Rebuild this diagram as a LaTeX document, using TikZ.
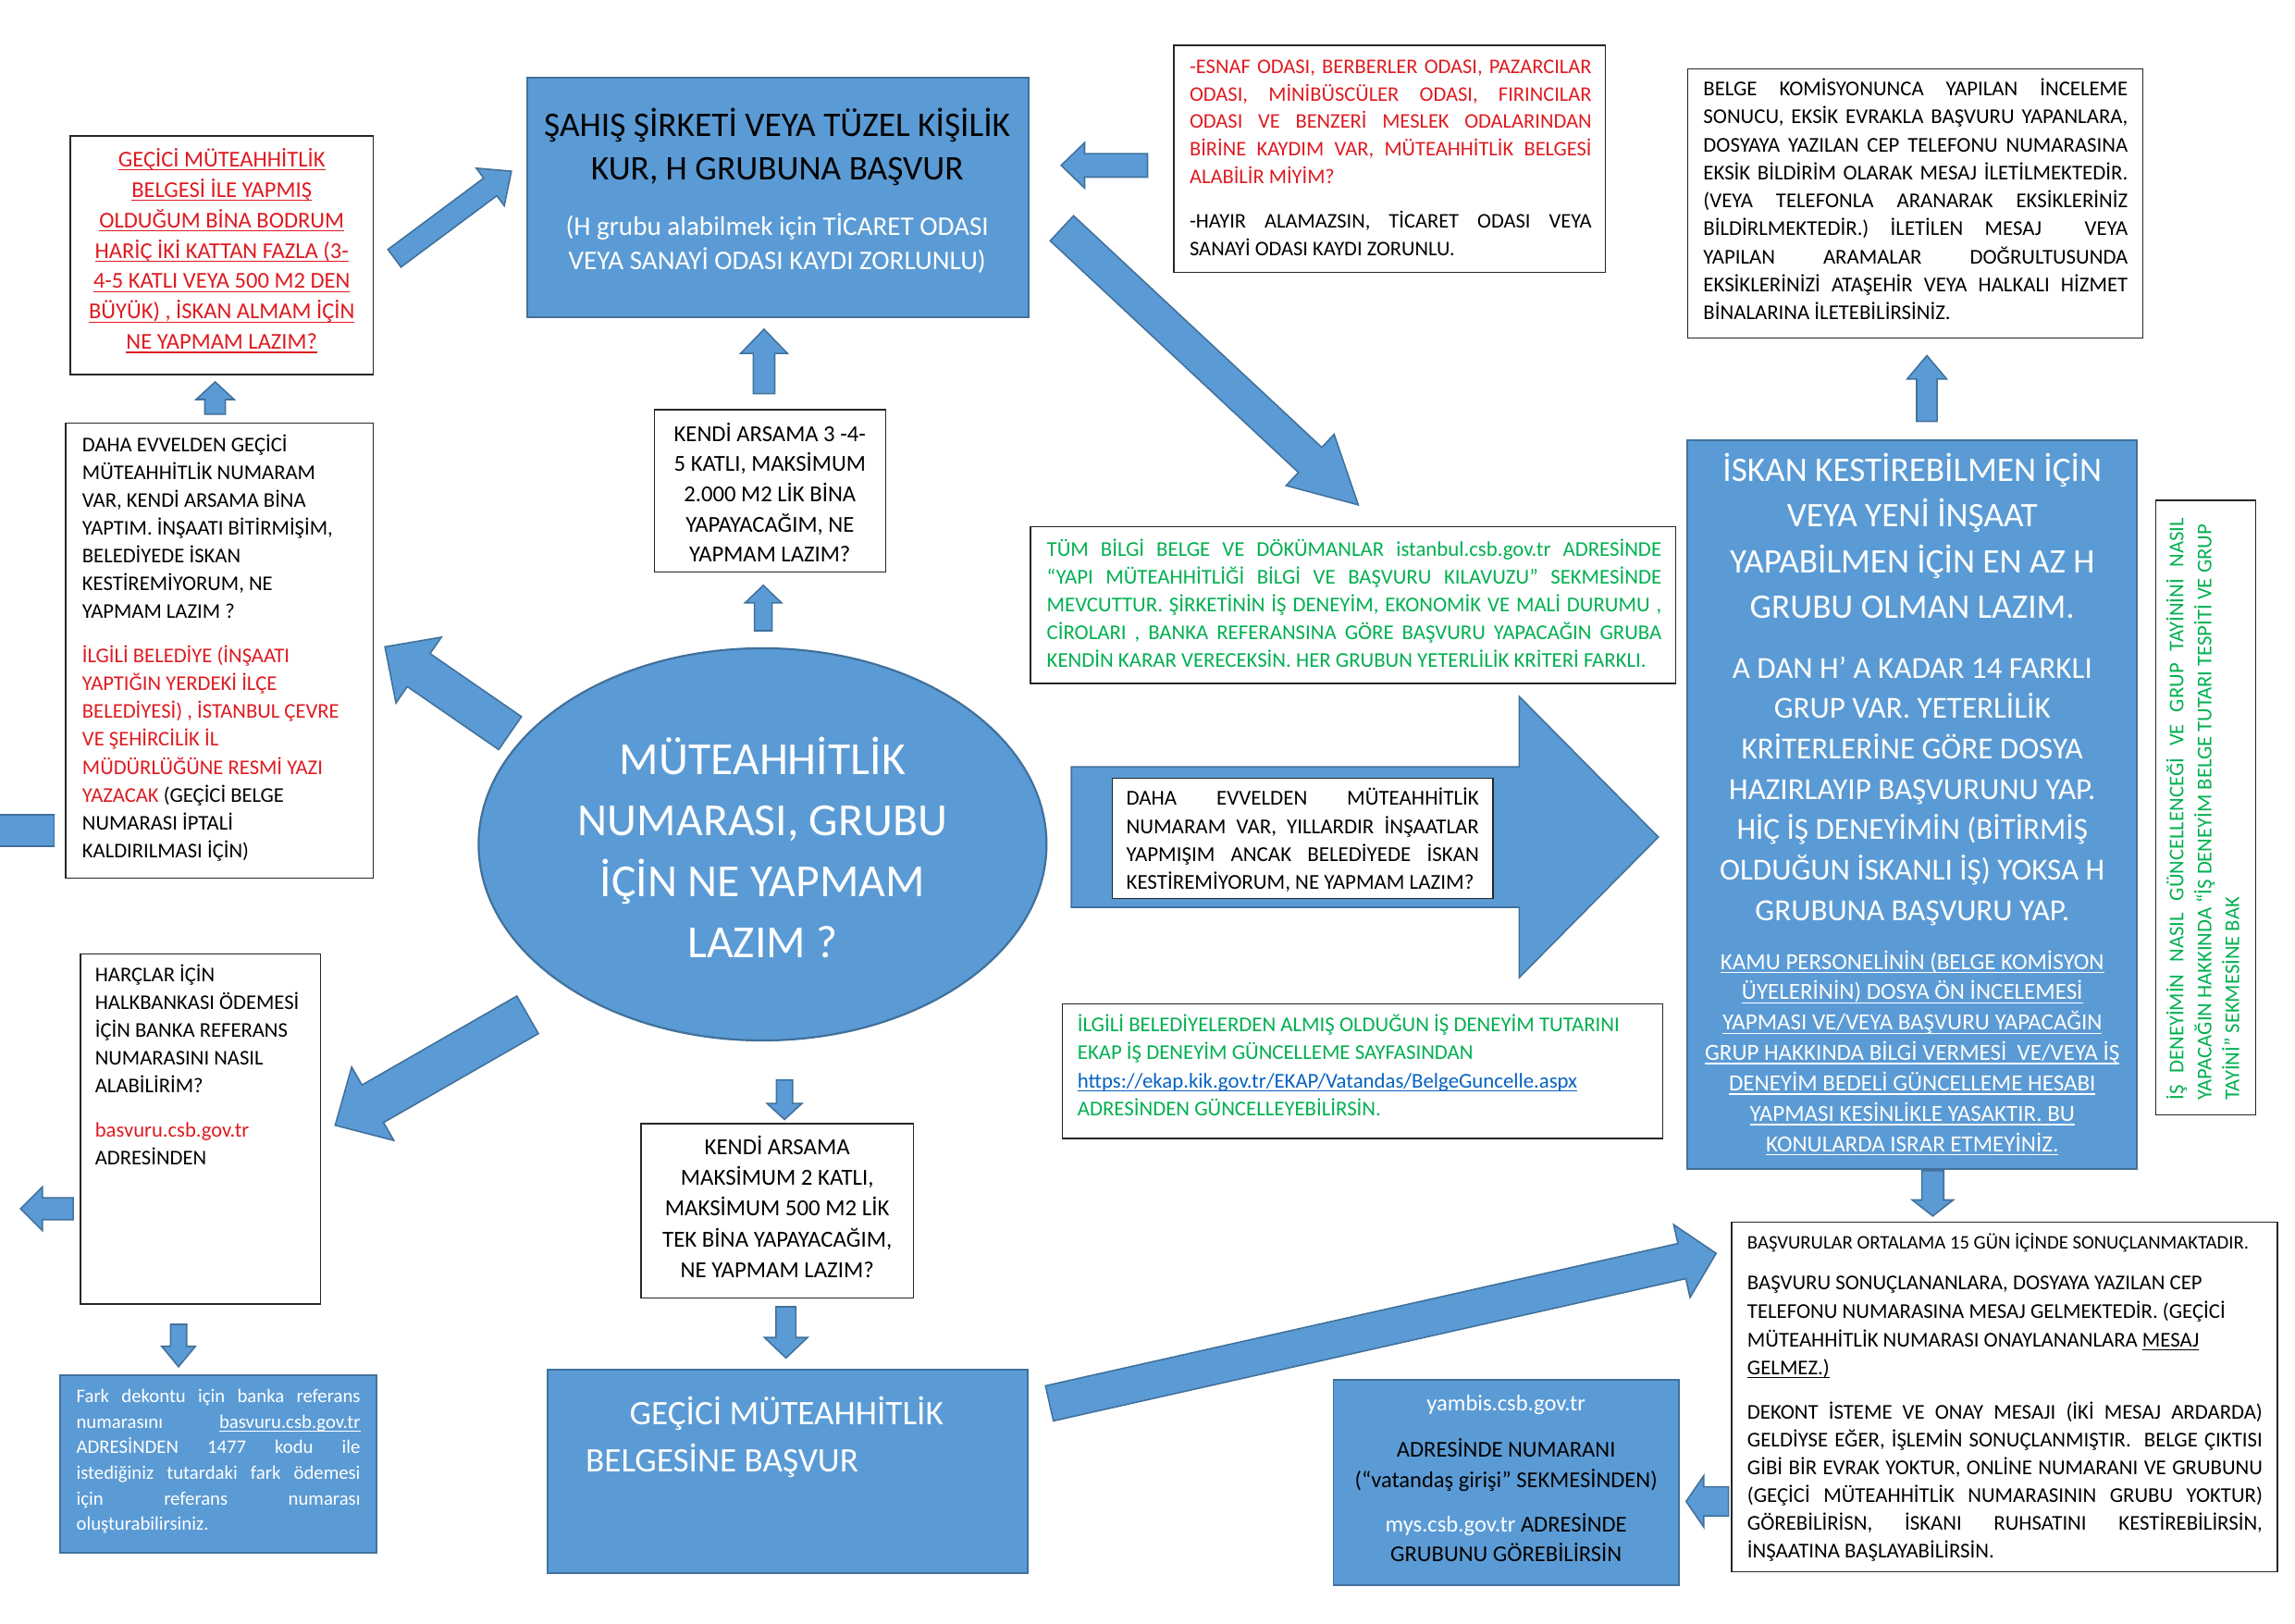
\documentclass[tikz,border=0pt]{standalone}
\usepackage{fontspec}
\setmainfont{Carlito}
\usetikzlibrary{calc,shapes.geometric}
\definecolor{bfill}{HTML}{5B9BD5}
\definecolor{bline}{HTML}{41719C}
\definecolor{tred}{RGB}{222,27,33}
\definecolor{tgreen}{HTML}{00B050}
\definecolor{tlink}{HTML}{0563C1}
\newlength\jw
\newcommand\fs[2]{\fontsize{#1pt}{#2pt}\selectfont}
\newcommand\jl[1]{\makebox[\jw][s]{#1}}
\newcommand\myul[1]{\leavevmode\setbox0\hbox{#1}\rlap{\rule[-0.17em]{\wd0}{0.06em}}\box0}
\newcommand\boxat[6]{\node[#1,minimum width={(#4-#2)*1pt},minimum height={(#5-#3)*1pt}] (#6) at ({(#2+#4)/2},{(#3+#5)/2}) {};}
\newcommand\barrow[6]{%
  \coordinate (#1-t) at (#2);
  \coordinate (#1-h) at (#3);
  \coordinate (#1-n) at ($(#1-h)!#6pt!(#1-t)$);
  \draw[barr] ($(#1-t)!#4pt!90:(#1-h)$) -- ($(#1-n)!#4pt!90:(#1-h)$) -- ($(#1-n)!#5pt!90:(#1-h)$) -- (#1-h)
    -- ($(#1-n)!#5pt!-90:(#1-h)$) -- ($(#1-n)!#4pt!-90:(#1-h)$) -- ($(#1-t)!#4pt!-90:(#1-h)$) -- cycle;}
\begin{document}
\begin{tikzpicture}[x=1pt,y=-1pt,
  wbox/.style={draw=black!85,line width=0.9pt,fill=white,inner sep=0pt},
  bbox/.style={draw=bline,line width=1.2pt,fill=bfill,inner sep=0pt},
  txt/.style={inner sep=0pt,align=left,anchor=north west},
  ctxt/.style={inner sep=0pt,align=center,anchor=north},
  barr/.style={fill=bfill,draw=bline,line width=1pt,line join=miter}]
\useasboundingbox (0,0) rectangle (1568,1109.2);
\fill[white] (0,0) rectangle (1568,1109.2);

% ---------- arrows behind ----------
\barrow{a5}{348.5,501}{263,442}{13.7}{27.3}{28}
\barrow{a12}{360.5,693.5}{229,769}{14.8}{28.9}{29.6}
\barrow{a1}{147,283}{147,261}{7}{13}{12}
\barrow{a2}{269.5,176.5}{349.4,117}{7.5}{16}{18}
\barrow{a3}{522,269}{522,225}{7.3}{16}{16.5}
\barrow{a4}{521.5,431}{521.5,400}{6}{12.5}{12}
\barrow{a6}{725.5,156}{928,345}{11.7}{24}{45}
\barrow{a7}{784,113}{725,113}{8}{15.5}{16}
\barrow{a8}{1316.5,288}{1316.5,243}{7}{13.5}{16}
\barrow{a9}{1320.5,800}{1320.5,831}{7.5}{14}{11}
\barrow{a10}{1181,1026}{1152,1026}{10}{17.5}{12}
\barrow{a11}{717,959}{1172.5,856.5}{12.3}{25.5}{24}
\barrow{a13}{50,826}{14,826}{7.5}{15}{15}
\barrow{a14}{122,905}{122,934}{5.5}{11.5}{14}
\barrow{a15}{536,738}{536,765}{5.5}{12}{11}
\barrow{a16}{537,893}{537,928}{6.8}{14.7}{14}
\barrow{ax}{732,572}{1133,572}{48}{96}{95}
\boxat{bbox}{-2}{557}{37}{578}{D}

% ---------- central ellipse ----------
\node[ellipse,draw=bline,line width=1.4pt,fill=bfill,minimum width=388pt,minimum height=268pt,inner sep=0pt] (M) at (521,577) {};
\node[ctxt,text=white,font=\fs{31.4}{41.7}] (Mt) at (521,499.8) {\strut MÜTEAHHİTLİK\\ NUMARASI, GRUBU\\ İÇİN NE YAPMAM\\ LAZIM ?};

% ---------- red question box ----------
\boxat{wbox}{48}{93}{255}{256}{A}
\node[ctxt,text=tred,font=\fs{15.5}{20.8}] (At) at (151.5,99.2) {\strut\myul{GEÇİCİ MÜTEAHHİTLİK}\\ \myul{BELGESİ İLE YAPMIŞ}\\ \myul{OLDUĞUM BİNA BODRUM}\\ \myul{HARİÇ İKİ KATTAN FAZLA (3-}\\ \myul{4-5 KATLI VEYA 500 M2 DEN}\\ \myul{BÜYÜK) , İSKAN ALMAM İÇİN}\\ \myul{NE YAPMAM LAZIM?}};

% ---------- DAHA EVVELDEN box ----------
\boxat{wbox}{45}{289}{255}{600}{C}
\node[txt,font=\fs{14.3}{19}] (Ct) at (56,295.1) {\strut DAHA EVVELDEN GEÇİCİ\\ MÜTEAHHİTLİK NUMARAM\\ VAR, KENDİ ARSAMA BİNA\\ YAPTIM. İNŞAATI BİTİRMİŞİM,\\ BELEDİYEDE İSKAN\\ KESTİREMİYORUM, NE\\ YAPMAM LAZIM ?\\[11.4pt] \textcolor{tred}{İLGİLİ BELEDİYE (İNŞAATI}\\ \textcolor{tred}{YAPTIĞIN YERDEKİ İLÇE}\\ \textcolor{tred}{BELEDİYESİ) , İSTANBUL ÇEVRE}\\ \textcolor{tred}{VE ŞEHİRCİLİK İL}\\ \textcolor{tred}{MÜDÜRLÜĞÜNE RESMİ YAZI}\\ \textcolor{tred}{YAZACAK} (GEÇİCİ BELGE\\ NUMARASI İPTALİ\\ KALDIRILMASI İÇİN)};

% ---------- ŞAHIŞ box ----------
\boxat{bbox}{360}{53}{703}{217}{G}
\node[ctxt,font=\fs{23.6}{30}] (Gt) at (531,71.8) {\strut ŞAHIŞ ŞİRKETİ VEYA TÜZEL KİŞİLİK\\ KUR, H GRUBUNA BAŞVUR};
\node[ctxt,text=white,font=\fs{18.4}{23.5}] (Gw) at (531,144.2) {\strut (H grubu alabilmek için TİCARET ODASI\\ VEYA SANAYİ ODASI KAYDI ZORLUNLU)};

% ---------- ESNAF box ----------
\boxat{wbox}{802}{31}{1097}{186}{E}
\node[txt,text=tred,font=\fs{14.2}{18.9}\setlength\jw{274.6pt}] (Er) at (812.6,36.6) {\strut\jl{-ESNAF ODASI, BERBERLER ODASI, PAZARCILAR}\\ \jl{ODASI, MİNİBÜSCÜLER ODASI, FIRINCILAR}\\ \jl{ODASI VE BENZERİ MESLEK ODALARINDAN}\\ \jl{BİRİNE KAYDIM VAR, MÜTEAHHİTLİK BELGESİ}\\ ALABİLİR MİYİM?};
\node[txt,font=\fs{14.2}{18.9}\setlength\jw{274.6pt}] (Eb) at (812.6,142.6) {\strut\jl{-HAYIR ALAMAZSIN, TİCARET ODASI VEYA}\\ SANAYİ ODASI KAYDI ZORUNLU.};

% ---------- BELGE KOMİSYONUNCA box ----------
\boxat{wbox}{1153}{47}{1464}{231}{V}
\node[txt,font=\fs{14.4}{19.1}\setlength\jw{290pt}] (Vt) at (1163.6,52) {\strut\jl{BELGE KOMİSYONUNCA YAPILAN İNCELEME}\\ \jl{SONUCU, EKSİK EVRAKLA BAŞVURU YAPANLARA,}\\ \jl{DOSYAYA YAZILAN CEP TELEFONU NUMARASINA}\\ \jl{EKSİK BİLDİRİM OLARAK MESAJ İLETİLMEKTEDİR.}\\ \jl{(VEYA TELEFONLA ARANARAK EKSİKLERİNİZ}\\ \jl{BİLDİRLMEKTEDİR.) İLETİLEN MESAJ \ VEYA}\\ \jl{YAPILAN ARAMALAR DOĞRULTUSUNDA}\\ \jl{EKSİKLERİNİZİ ATAŞEHİR VEYA HALKALI HİZMET}\\ BİNALARINA İLETEBİLİRSİNİZ.};

% ---------- KENDİ ARSAMA 3-4-5 ----------
\boxat{wbox}{447}{280}{605}{391}{I}
\node[ctxt,font=\fs{15.6}{20.6}] (It) at (526,287) {\strut KENDİ ARSAMA 3 -4-\\ 5 KATLI, MAKSİMUM\\ 2.000 M2 LİK BİNA\\ YAPAYACAĞIM, NE\\ YAPMAM LAZIM?};

% ---------- KENDİ ARSAMA 2 KATLI ----------
\boxat{wbox}{438}{768}{624}{887}{L}
\node[ctxt,font=\fs{15.7}{21}] (Lt) at (531,774.1) {\strut KENDİ ARSAMA\\ MAKSİMUM 2 KATLI,\\ MAKSİMUM 500 M2 LİK\\ TEK BİNA YAPAYACAĞIM,\\ NE YAPMAM LAZIM?};

% ---------- GEÇİCİ BELGESİNE BAŞVUR ----------
\boxat{bbox}{374}{936}{702}{1075}{N}
\node[anchor=base west,inner sep=0pt,text=white,font=\fs{23.5}{30}] (Nt1) at (430,973.5) {GEÇİCİ MÜTEAHHİTLİK};
\node[anchor=base west,inner sep=0pt,text=white,font=\fs{23.5}{30}] (Nt2) at (400,1005.8) {BELGESİNE BAŞVUR};

% ---------- yambis box ----------
\boxat{bbox}{911}{943}{1147}{1083}{P}
\node[ctxt,font=\fs{15.5}{20.3}] (Pt) at (1029,950) {\strut\textcolor{white}{yambis.csb.gov.tr}\\[11.3pt] ADRESİNDE NUMARANI\\ (“vatandaş girişi” SEKMESİNDEN)\\[10.2pt] \textcolor{white}{mys.csb.gov.tr} ADRESİNDE\\ GRUBUNU GÖREBİLİRSİN};

% ---------- BAŞVURULAR box ----------
\boxat{wbox}{1183}{835}{1556}{1074}{R}
\node[txt,font=\fs{13.1}{19.2}] (Rt1) at (1193.6,839.7) {\strut BAŞVURULAR ORTALAMA 15 GÜN İÇİNDE SONUÇLANMAKTADIR.};
\node[txt,font=\fs{14.4}{19.3}] (Rt2) at (1193.6,867.9) {\strut BAŞVURU SONUÇLANANLARA, DOSYAYA YAZILAN CEP\\ TELEFONU NUMARASINA MESAJ GELMEKTEDİR. (GEÇİCİ\\ MÜTEAHHİTLİK NUMARASI ONAYLANANLARA \myul{MESAJ}\\ \myul{GELMEZ.)}};
\node[txt,font=\fs{14.4}{18.95}\setlength\jw{352pt}] (Rt3) at (1193.6,956.1) {\strut\jl{DEKONT İSTEME VE ONAY MESAJI (İKİ MESAJ ARDARDA)}\\ \jl{GELDİYSE EĞER, İŞLEMİN SONUÇLANMIŞTIR. \ BELGE ÇIKTISI}\\ \jl{GİBİ BİR EVRAK YOKTUR, ONLİNE NUMARANI VE GRUBUNU}\\ \jl{(GEÇİCİ MÜTEAHHİTLİK NUMARASININ GRUBU YOKTUR)}\\ \jl{GÖREBİLİRİSN, İSKANI RUHSATINI KESTİREBİLİRSİN,}\\ İNŞAATINA BAŞLAYABİLİRSİN.};

% ---------- İSKAN box ----------
\boxat{bbox}{1153}{301}{1460}{799}{T}
\node[ctxt,text=white,font=\fs{23.5}{31}] (Tt1) at (1306.5,307.3) {\strut İSKAN KESTİREBİLMEN İÇİN\\ VEYA YENİ İNŞAAT\\ YAPABİLMEN İÇİN EN AZ H\\ GRUBU OLMAN LAZIM.};
\node[ctxt,text=white,font=\fs{20.9}{27.6}] (Tt2) at (1306.5,443.8) {\strut A DAN H’ A KADAR 14 FARKLI\\ GRUP VAR. YETERLİLİK\\ KRİTERLERİNE GÖRE DOSYA\\ HAZIRLAYIP BAŞVURUNU YAP.\\ HİÇ İŞ DENEYİMİN (BİTİRMİŞ\\ OLDUĞUN İSKANLI İŞ) YOKSA H\\ GRUBUNA BAŞVURU YAP.};
\node[ctxt,text=white,font=\fs{15.8}{20.75}] (Tt3) at (1306.5,647.7) {\strut\myul{KAMU PERSONELİNİN (BELGE KOMİSYON}\\ \myul{ÜYELERİNİN) DOSYA ÖN İNCELEMESİ}\\ \myul{YAPMASI VE/VEYA BAŞVURU YAPACAĞIN}\\ \myul{GRUP HAKKINDA BİLGİ VERMESİ \ VE/VEYA İŞ}\\ \myul{DENEYİM BEDELİ GÜNCELLEME HESABI}\\ \myul{YAPMASI KESİNLİKLE YASAKTIR. BU}\\ \myul{KONULARDA ISRAR ETMEYİNİZ.}};

% ---------- vertical green box ----------
\boxat{wbox}{1473}{342}{1541}{762}{W}
\node[txt,rotate=90,text=tgreen,font=\fs{14.3}{19}\setlength\jw{398pt}] (Wt) at (1478.3,752) {\strut\jl{İŞ \ DENEYİMİN \ NASIL \ GÜNCELLENCEĞİ \ VE \ GRUP \ TAYİNİNİ \ NASIL}\\ YAPACAĞIN HAKKINDA “İŞ DENEYİM BELGE TUTARI TESPİTİ VE GRUP\\ TAYİNİ” SEKMESİNE BAK};

% ---------- TÜM BİLGİ box ----------
\boxat{wbox}{704}{360}{1145}{467}{Tm}
\node[txt,text=tgreen,font=\fs{14.4}{19}\setlength\jw{420pt}] (Tmt) at (715,366.5) {\strut\jl{TÜM BİLGİ BELGE VE DÖKÜMANLAR istanbul.csb.gov.tr ADRESİNDE}\\ \jl{“YAPI MÜTEAHHİTLİĞİ BİLGİ VE BAŞVURU KILAVUZU” SEKMESİNDE}\\ \jl{MEVCUTTUR. ŞİRKETİNİN İŞ DENEYİM, EKONOMİK VE MALİ DURUMU ,}\\ \jl{CİROLARI , BANKA REFERANSINA GÖRE BAŞVURU YAPACAĞIN GRUBA}\\ KENDİN KARAR VERECEKSİN. HER GRUBUN YETERLİLİK KRİTERİ FARKLI.};

% ---------- box inside big arrow ----------
\boxat{wbox}{760}{532}{1020}{614}{X}
\node[txt,font=\fs{14.5}{19.2}\setlength\jw{241pt}] (Xt) at (769.3,536.7) {\strut\jl{DAHA EVVELDEN MÜTEAHHİTLİK}\\ \jl{NUMARAM VAR, YILLARDIR İNŞAATLAR}\\ \jl{YAPMIŞIM ANCAK BELEDİYEDE İSKAN}\\ KESTİREMİYORUM, NE YAPMAM LAZIM?};

% ---------- İLGİLİ BELEDİYELERDEN box ----------
\boxat{wbox}{726}{686}{1136}{778}{Y}
\node[txt,font=\fs{14.4}{19.2}] (Yt) at (736,691.2) {\strut\textcolor{tgreen}{İLGİLİ BELEDİYELERDEN ALMIŞ OLDUĞUN İŞ DENEYİM TUTARINI}\\ \textcolor{tgreen}{EKAP İŞ DENEYİM GÜNCELLEME SAYFASINDAN}\\ \textcolor{tlink}{\myul{https://ekap.kik.gov.tr/EKAP/Vatandas/BelgeGuncelle.aspx}}\\ \textcolor{tgreen}{ADRESİNDEN GÜNCELLEYEBİLİRSİN.}};

% ---------- HARÇLAR box ----------
\boxat{wbox}{55}{652}{219}{891}{H}
\node[txt,font=\fs{14.3}{19}] (Ht) at (64.8,657.3) {\strut HARÇLAR İÇİN\\ HALKBANKASI ÖDEMESİ\\ İÇİN BANKA REFERANS\\ NUMARASINI NASIL\\ ALABİLİRİM?\\[11.3pt] \textcolor{tred}{basvuru.csb.gov.tr}\\ ADRESİNDEN};

% ---------- Fark dekontu box ----------
\boxat{bbox}{41}{940}{257}{1061}{F}
\node[txt,text=white,font=\fs{13.1}{17.4}\setlength\jw{194pt}] (Ft) at (52,946.3) {\strut\jl{Fark dekontu için banka referans}\\ \jl{numarasını \myul{basvuru.csb.gov.tr}}\\ \jl{ADRESİNDEN 1477 kodu ile}\\ \jl{istediğiniz tutardaki fark ödemesi}\\ \jl{için referans numarası}\\ oluşturabilirsiniz.};
\end{tikzpicture}
\end{document}
